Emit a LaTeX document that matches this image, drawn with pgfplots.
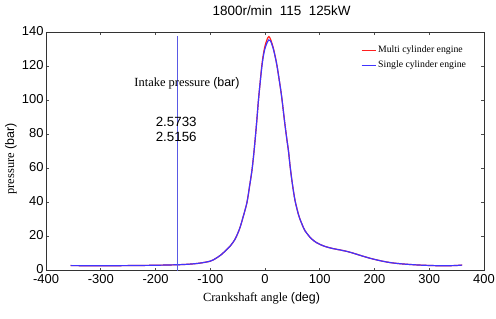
\documentclass[border=0pt]{standalone}
\usepackage{fontspec}
\setmainfont{Liberation Serif}
\setsansfont{Liberation Sans}
\usepackage{pgfplots}
\pgfplotsset{compat=1.18}
\definecolor{myred}{rgb}{1,0.12,0.12}
\definecolor{myblue}{rgb}{0.25,0.2,1}
\definecolor{myvline}{rgb}{0.35,0.35,0.9}
\begin{document}
\begin{tikzpicture}
\path[use as bounding box] (-46bp,-48.3bp) rectangle (450bp,270.7bp);
\begin{axis}[
  at={(0,0)}, anchor=south west,
  scale only axis, width=438bp, height=238.4bp,
  xmin=-400, xmax=400, ymin=0, ymax=140,
  xtick={-400,-300,...,400}, ytick={0,20,...,140},
  tick align=inside, tick pos=both, major tick length=3bp,
  axis line style={black!80, line width=0.6pt},
  tick style={black!70, line width=0.5pt},
  /pgf/number format/assume math mode=true,
  tick label style={font=\sffamily\fontsize{13}{14}\selectfont},
  xticklabel style={yshift=-0.5bp},
  yticklabel style={xshift=1bp, yshift=1.5bp},
  title={1800r/min\ \ 115\ \ 125kW},
  title style={font=\sffamily\fontsize{13.5}{15}\selectfont, at={(axis description cs:0.538,1)}, anchor=base, yshift=10.6bp},
  xlabel={Crankshaft angle \textsf{(deg)}},
  xlabel style={font=\fontsize{12.5}{14}\selectfont, at={(axis description cs:0.492,0)}, anchor=base, yshift=-30.3bp},
  ylabel={pressure \textsf{(bar)}},
  ylabel style={font=\fontsize{12.5}{14}\selectfont, at={(axis description cs:-0.08,0.4685)}, anchor=center, rotate=0},
  legend style={draw=none, fill=none, at={(rel axis cs:0.717,0.955)}, anchor=north west,
    font=\fontsize{9.8}{11}\selectfont, row sep=2.5bp, inner sep=1bp},
  legend cell align=left,
  legend image code/.code={\draw[#1, line width=0.9pt] (0bp,0bp) -- (14bp,0bp);},
]
\addplot[color=myred, line width=1.2pt, smooth] coordinates {
(-355,3.0) (-300,2.9) (-250,3.0) (-200,3.2) (-160,3.5) (-140,3.8) (-120,4.4)
(-100,5.6) (-90,7.2) (-80,9.4) (-70,12.4) (-64,14.3) (-55,18.3) (-49,22.5)
(-45,26) (-40,31.5) (-33,40) (-28,50) (-24,58.5) (-21,67) (-18,77) (-15,88)
(-12,100) (-9,110) (-6,120) (-3,127) (0,132) (4,136) (7,137.5) (10,136)
(15,131) (21,122) (26,112) (30.5,102) (36,87) (40,77) (43,70) (46,61)
(50,51) (55,41) (62,32) (68,27) (73,23.5) (84,19) (94,16.5) (100,15.5)
(110,14.2) (124,13) (137,12.2) (150,11.3) (160,10.4) (175,8.9) (192,7.3)
(210,5.9) (228,4.8) (250,4.0) (283,3.3) (320,2.9) (345,3.0) (360,3.3)
};
\addlegendentry{Multi cylinder engine}
\addplot[color=myblue, line width=1.2pt, smooth] coordinates {
(-355,3.0) (-300,2.9) (-250,3.0) (-200,3.2) (-160,3.5) (-140,3.8) (-120,4.4)
(-100,5.6) (-90,7.2) (-80,9.4) (-70,12.4) (-64,14.3) (-55,18.3) (-49,22.5)
(-45,26) (-40,31.5) (-33,40) (-28,50) (-24,58.5) (-21,67) (-18,77) (-15,88)
(-12,100) (-9,110) (-6,119) (-3,126) (0,130.5) (4,134) (7,135.5) (10,135)
(15,130.5) (21,122) (26,112) (30.5,102) (36,87) (40,77) (43,70) (46,61)
(50,51) (55,41) (62,32) (68,27) (73,23.5) (84,19) (94,16.5) (100,15.5)
(110,14.2) (124,13) (137,12.2) (150,11.3) (160,10.4) (175,8.9) (192,7.3)
(210,5.9) (228,4.8) (250,4.0) (283,3.3) (320,2.9) (345,3.0) (360,3.3)
};
\addlegendentry{Single cylinder engine}
\addplot[color=myvline, line width=0.9pt, forget plot] coordinates {(-160,0) (-160,138)};
\node[anchor=base, font=\fontsize{12.5}{14}\selectfont] at (axis cs:-142.5,108.2) {Intake pressure \textsf{(bar)}};
\node[anchor=base, font=\sffamily\fontsize{13.4}{15}\selectfont] at (axis cs:-162.2,84.7) {2.5733};
\node[anchor=base, font=\sffamily\fontsize{13.4}{15}\selectfont] at (axis cs:-162.2,75.9) {2.5156};
\end{axis}
\end{tikzpicture}
\end{document}
